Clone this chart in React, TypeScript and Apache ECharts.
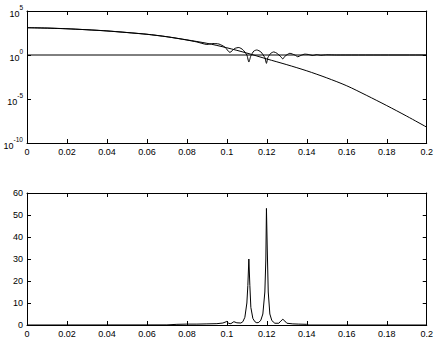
import React, { useEffect, useRef } from "react";
import * as echarts from "echarts";

// Top panel: x positions and log10 exponents
const smoothX = [0, 0.01, 0.02, 0.03, 0.04, 0.05, 0.06, 0.07, 0.08, 0.09, 0.1, 0.11, 0.12, 0.13, 0.14, 0.15, 0.16, 0.17, 0.18, 0.19, 0.2];
const smoothExp = [3.1, 3.07, 2.98, 2.87, 2.73, 2.55, 2.35, 2.07, 1.72, 1.33, 0.82, 0.22, -0.45, -1.1, -1.8, -2.6, -3.5, -4.6, -5.75, -6.95, -8.2];

const oscX = [0, 0.02, 0.04, 0.06, 0.07, 0.08, 0.085, 0.09, 0.093, 0.096, 0.099, 0.1015, 0.104, 0.106, 0.108, 0.11, 0.111, 0.112, 0.1135, 0.115, 0.117, 0.119, 0.1198, 0.1205, 0.122, 0.1235, 0.125, 0.127, 0.128, 0.129, 0.1315, 0.134, 0.1355, 0.137, 0.139, 0.141, 0.143, 0.145, 0.147, 0.15, 0.155, 0.2];
const oscExp = [3.1, 2.98, 2.74, 2.36, 2.08, 1.7, 1.48, 1.2, 1.3, 1.25, 0.9, 0.3, 0.75, 0.85, 0.6, 0.0, -0.8, -0.1, 0.45, 0.57, 0.35, -0.3, -0.95, -0.3, 0.2, 0.35, 0.2, -0.2, -0.45, -0.15, 0.19, 0.0, -0.2, -0.05, 0.1, 0.05, -0.06, 0.04, -0.03, 0.02, 0, 0];

const unitX = [0, 0.2];
const unitExp = [0, 0];

const topTicks = [-10, -5, 0, 5];

// Bottom panel
const botX = [0, 0.07, 0.075, 0.08, 0.085, 0.09, 0.095, 0.098, 0.1, 0.101, 0.102, 0.1035, 0.105, 0.107, 0.108, 0.109, 0.11, 0.1105, 0.111, 0.1115, 0.112, 0.113, 0.114, 0.115, 0.116, 0.117, 0.118, 0.119, 0.1195, 0.1198, 0.1202, 0.1207, 0.1215, 0.1225, 0.124, 0.126, 0.127, 0.128, 0.129, 0.13, 0.133, 0.136, 0.14, 0.141, 0.2];
const botY = [0, 0.05, 0.3, 0.4, 0.4, 0.5, 0.6, 0.9, 1.6, 0.7, 0.6, 1.5, 1.0, 0.9, 1.5, 3.5, 10, 18, 30, 18, 8, 3, 1.5, 1.0, 1.2, 2.2, 5, 15, 30, 53, 35, 15, 5, 2, 0.8, 0.8, 1.8, 2.6, 1.8, 0.8, 0.5, 0.4, 0.3, 0, 0];

const xTicks = [0, 0.02, 0.04, 0.06, 0.08, 0.1, 0.12, 0.14, 0.16, 0.18, 0.2];

const zip = (a: number[], b: number[]) => a.map((v, i) => [v, b[i]]);

const FONT = "Liberation Sans";
const lineStyle = { color: "#000", width: 1 };
const axisLine = { show: true, onZero: false, lineStyle: { color: "#000", width: 1 } };
const axisTick = { show: true, inside: true, length: 4, lineStyle: { color: "#000" } };

function xAxes(grid: number) {
  const base = {
    type: "value" as const,
    gridIndex: grid,
    min: xTicks[0],
    max: xTicks[xTicks.length - 1],
    interval: 0.02,
    splitLine: { show: false },
    axisLine,
    axisTick,
  };
  return [
    {
      ...base,
      position: "bottom",
      axisLabel: { show: true, color: "#000", fontSize: 9, fontFamily: FONT, margin: 4, formatter: (v: number) => String(+v.toFixed(2)) },
    },
    { ...base, position: "top", axisLabel: { show: false } },
  ];
}

export default function App() {
  const ref = useRef<HTMLDivElement>(null);
  useEffect(() => {
    if (!ref.current) return;
    const chart = echarts.init(ref.current, null, { renderer: "svg" });
    const yTopBase = {
      type: "value" as const,
      gridIndex: 0,
      min: topTicks[0],
      max: topTicks[topTicks.length - 1],
      interval: 5,
      splitLine: { show: false },
      axisLine,
      axisTick,
    };
    const yBotBase = {
      type: "value" as const,
      gridIndex: 1,
      min: 0,
      max: 60,
      interval: 10,
      splitLine: { show: false },
      axisLine,
      axisTick,
    };
    chart.setOption({
      animation: false,
      backgroundColor: "#fff",
      grid: [
        { left: 27, top: 11, width: 400, height: 132 },
        { left: 27, top: 193, width: 400, height: 132 },
      ],
      xAxis: [...xAxes(0), ...xAxes(1)],
      yAxis: [
        {
          ...yTopBase,
          position: "left",
          axisLabel: {
            show: true,
            margin: 4,
            formatter: (v: number) => `{b|10}{s|${v}}`,
            rich: {
              b: { fontSize: 9, fontFamily: FONT, color: "#000", lineHeight: 14, verticalAlign: "bottom" },
              s: { fontSize: 6.5, fontFamily: FONT, color: "#000", lineHeight: 14, verticalAlign: "top" },
            },
          },
        },
        { ...yTopBase, position: "right", axisLabel: { show: false } },
        {
          ...yBotBase,
          position: "left",
          axisLabel: { show: true, color: "#000", fontSize: 9, fontFamily: FONT, margin: 4 },
        },
        { ...yBotBase, position: "right", axisLabel: { show: false } },
      ],
      series: [
        { type: "line", xAxisIndex: 0, yAxisIndex: 0, data: zip(unitX, unitExp), showSymbol: false, lineStyle },
        { type: "line", xAxisIndex: 0, yAxisIndex: 0, data: zip(smoothX, smoothExp), showSymbol: false, smooth: 0.3, lineStyle },
        { type: "line", xAxisIndex: 0, yAxisIndex: 0, data: zip(oscX, oscExp), showSymbol: false, smooth: 0.2, lineStyle },
        { type: "line", xAxisIndex: 2, yAxisIndex: 2, data: zip(botX, botY), showSymbol: false, lineStyle },
      ],
    });
    return () => chart.dispose();
  }, []);
  return <div ref={ref} style={{ width: 436, height: 341, position: "absolute", left: 0, top: 0 }} />;
}
